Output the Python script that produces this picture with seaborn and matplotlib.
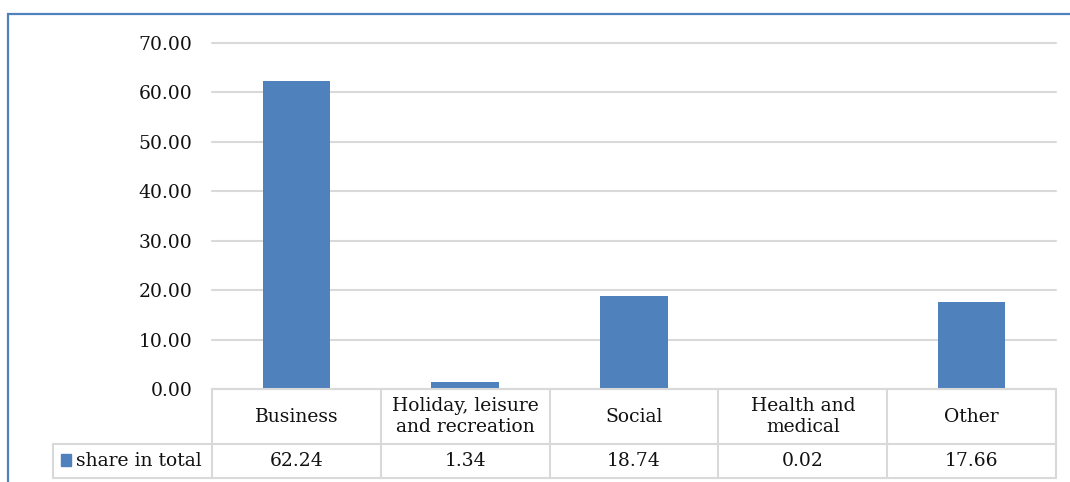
import matplotlib
matplotlib.use("Agg")
import pandas as pd
from matplotlib import pyplot as plt
from matplotlib.patches import Rectangle
import seaborn as sns

categories = ["Business", "Holiday, leisure and recreation", "Social", "Health and medical", "Other"]
tick_labels = ["Business", "Holiday, leisure\nand recreation", "Social", "Health and\nmedical", "Other"]
share_in_total = [62.24, 1.34, 18.74, 0.02, 17.66]
series_name = "share in total"
y_ticks = [0, 10, 20, 30, 40, 50, 60, 70]

BLUE = "#4F81BD"
GRID = "#D9D9D9"
W, H = 1070, 482

sns.set_style("white")
plt.rcParams["font.family"] = ["DejaVu Serif"]
plt.rcParams["font.size"] = 13.5

df = pd.DataFrame({"category": categories, "share": share_in_total})

fig = plt.figure(figsize=(W / 100, H / 100), dpi=100)
# plot area in pixels: x 212..1056, y 43..389
ax = fig.add_axes([212 / W, 1 - 389 / H, (1056 - 212) / W, (389 - 43) / H])

sns.barplot(data=df, x="category", y="share", color=BLUE, saturation=1, width=0.4,
            linewidth=0, edgecolor=BLUE, ax=ax)

ax.set_ylim(0, 70)
ax.set_xlim(-0.5, len(categories) - 0.5)
ax.set_yticks(y_ticks)
ax.set_yticklabels([f"{v:.2f}" for v in y_ticks])
ax.set_xticks([])
ax.set_xlabel("")
ax.set_ylabel("")
ax.tick_params(axis="y", length=0, pad=14, labelsize=13.5, colors="#111111")
ax.yaxis.grid(True, color=GRID, lw=1.5)
for gl in ax.get_ygridlines():
    gl.set_clip_on(False)
ax.set_axisbelow(True)
for s in ax.spines.values():
    s.set_visible(False)

# data table under the plot
px = 346.0  # axes height in px
row1 = -(444 - 389) / px
row2 = -(478 - 389) / px
left = (53 - 212) / (1056 - 212)
xt = ax.get_xaxis_transform()
at = ax.transAxes
line_kw = dict(color=GRID, lw=1.5, clip_on=False)

ax.plot([0, 1], [0, 0], transform=at, **line_kw)
ax.plot([left, 1], [row1, row1], transform=at, **line_kw)
ax.plot([left, 1], [row2, row2], transform=at, **line_kw)
ax.plot([left, left], [row1, row2], transform=at, **line_kw)
for i in range(len(categories) + 1):
    ax.plot([i - 0.5, i - 0.5], [0, row2], transform=xt, **line_kw)

for i, (lab, val) in enumerate(zip(tick_labels, share_in_total)):
    ax.text(i, row1 / 2, lab, transform=xt, ha="center", va="center",
            fontsize=13.5, linespacing=1.15, color="#111111")
    ax.text(i, (row1 + row2) / 2, f"{val:.2f}", transform=xt, ha="center", va="center",
            fontsize=13.5, color="#111111")

# legend key in the row header cell
ax.add_patch(Rectangle(((61 - 212) / 844, -(466 - 389) / px), 10 / 844, 12 / px,
                       transform=at, color=BLUE, clip_on=False))
ax.text((76 - 212) / 844, (row1 + row2) / 2, series_name, transform=at,
        ha="left", va="center", fontsize=13.5, color="#111111")

# outer chart border (runs off the right and bottom edges)
fig.add_artist(Rectangle((8 / W, -0.1), 1.2, 1 - 14 / H + 0.1, transform=fig.transFigure,
                         fill=False, edgecolor=BLUE, lw=1.6))

fig.savefig("out.png", dpi=100)
